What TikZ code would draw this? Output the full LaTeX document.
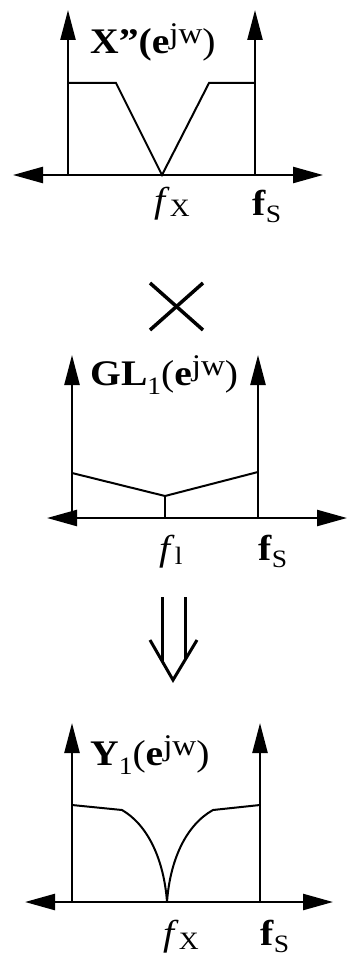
\documentclass[tikz,border=0pt]{standalone}
\usepackage{fontspec}
\setmainfont[FakeStretch=1.1]{Liberation Serif}
\usetikzlibrary{arrows.meta}
\newcommand\supjw{\raisebox{10pt}{\fontsize{30}{30}\selectfont jw}}
\newcommand\subtxt[2]{\raisebox{#1}{\fontsize{25}{25}\selectfont #2}}
\tikzset{
 vaxis/.style={line width=2.4pt, -{Triangle[length=30pt,width=15pt]}},
 haxis/.style={line width=2.4pt, {Triangle[length=30pt,width=16pt]}-{Triangle[length=30pt,width=16pt]}},
 sig/.style={line width=2pt, line join=miter},
 thinsig/.style={line width=1.2pt},
 heavy/.style={line width=3.5pt},
 lbl/.style={inner sep=0pt, anchor=base west, font=\fontsize{36}{38}\selectfont},
}
\begin{document}
\begin{tikzpicture}[x=1pt,y=-1pt]
\useasboundingbox (0,0) rectangle (348,960);
% ---------- panel 1 ----------
\coordinate (h1l) at (13,175); \coordinate (h1r) at (323,175);
\coordinate (l1b) at (68,175); \coordinate (l1t) at (68,10);
\coordinate (r1b) at (255,175); \coordinate (r1t) at (255,10);
\draw[haxis] (h1l) -- (h1r);
\draw[vaxis] (l1b) -- (l1t);
\draw[vaxis] (r1b) -- (r1t);
\coordinate (p1a) at (68,83); \coordinate (p1b) at (116,83);
\coordinate (p1c) at (162,175); \coordinate (p1d) at (209,83);
\coordinate (p1e) at (255,83);
\draw[sig] (p1a) -- (p1b) -- (p1c) -- (p1d) -- (p1e);
\node[lbl] (t1) at (90,54) {\textbf{X''(e}\supjw)};
\node[lbl] (fx1) at (154,212) {\textit{f}\subtxt{-4pt}{X}};
\node[lbl] (fs1) at (252,215) {\textbf{f}\subtxt{-7pt}{S}};
% ---------- times ----------
\coordinate (m1) at (150,283); \coordinate (m2) at (203,330);
\coordinate (m3) at (150,330); \coordinate (m4) at (203,283);
\draw[heavy] (m1) -- (m2);
\draw[heavy] (m3) -- (m4);
% ---------- panel 2 ----------
\coordinate (h2l) at (47,518); \coordinate (h2r) at (347,518);
\coordinate (l2b) at (72,518); \coordinate (l2t) at (72,355);
\coordinate (r2b) at (258,518); \coordinate (r2t) at (258,355);
\draw[haxis] (h2l) -- (h2r);
\draw[vaxis] (l2b) -- (l2t);
\draw[vaxis] (r2b) -- (r2t);
\coordinate (p2a) at (72,473); \coordinate (p2b) at (165,496);
\coordinate (p2c) at (258,472); \coordinate (p2d) at (165,518);
\draw[sig] (p2a) -- (p2b) -- (p2c);
\draw[thinsig] (p2b) -- (p2d);
\node[lbl] (t2) at (90,385) {\textbf{GL}\subtxt{-9pt}{1}(\textbf{e}\supjw)};
\node[lbl] (fl2) at (159,560) {\textit{f}\subtxt{-4pt}{l}};
\node[lbl] (fs2) at (258,560) {\textbf{f}\subtxt{-7pt}{S}};
% ---------- implies ----------
\coordinate (d1t) at (162,597); \coordinate (d1b) at (162,661);
\coordinate (d2t) at (185,597); \coordinate (d2b) at (185,660);
\coordinate (vl) at (150,640); \coordinate (vt) at (173,680); \coordinate (vr) at (197,640);
\draw[line width=3pt] (d1t) -- (d1b);
\draw[line width=3pt] (d2t) -- (d2b);
\draw[line width=3pt, line join=miter] (vl) -- (vt) -- (vr);
% ---------- panel 3 ----------
\coordinate (h3l) at (25,902); \coordinate (h3r) at (333,902);
\coordinate (l3b) at (72,902); \coordinate (l3t) at (72,723);
\coordinate (r3b) at (260,902); \coordinate (r3t) at (260,723);
\draw[haxis] (h3l) -- (h3r);
\draw[vaxis] (l3b) -- (l3t);
\draw[vaxis] (r3b) -- (r3t);
\coordinate (p3a) at (72,805); \coordinate (p3b) at (122,810);
\coordinate (p3c) at (167,902); \coordinate (p3d) at (213,810);
\coordinate (p3e) at (260,805);
\draw[sig] (p3a) -- (p3b) .. controls (148,825) and (164,860) .. (p3c)
  .. controls (170,860) and (186,825) .. (p3d) -- (p3e);
\node[lbl] (t3) at (90,765) {\textbf{Y}\subtxt{-9pt}{1}(\textbf{e}\supjw)};
\node[lbl] (fx3) at (163,945) {\textit{f}\subtxt{-4pt}{X}};
\node[lbl] (fs3) at (260,945) {\textbf{f}\subtxt{-7pt}{S}};
\end{tikzpicture}
\end{document}
